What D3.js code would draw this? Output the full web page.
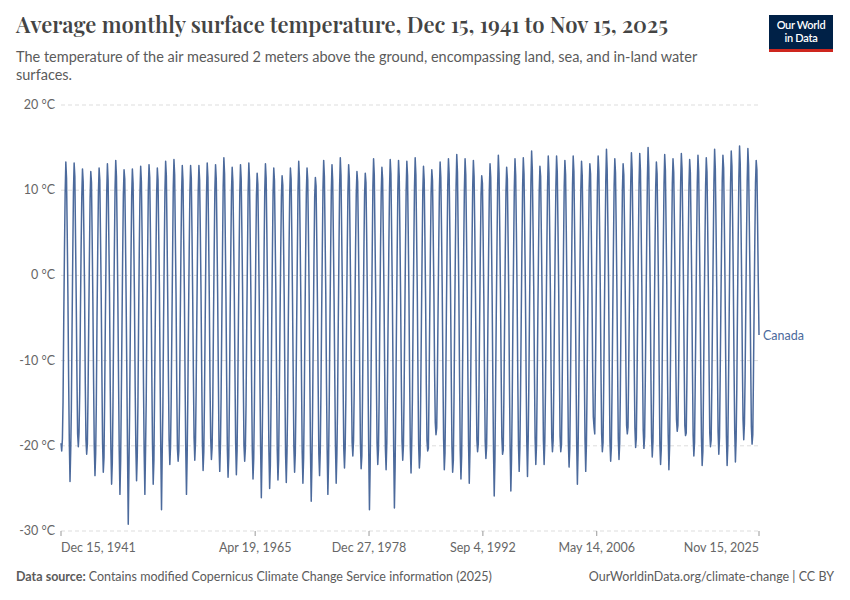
<!DOCTYPE html>
<html>
<head>
<meta charset="utf-8">
<script src="https://cdn.jsdelivr.net/npm/d3@7"></script>
<style>
  body { margin: 0; background: #fff; }
  svg { display: block; }
</style>
</head>
<body>
<svg id="chart" width="850" height="600"></svg>
<script>
// monthly mean surface temperature, Canada (°C)
// one row per year: Jan .. Dec
const dec1941 = -19.7;

const temps1940s = [
  [-20.6, -19.2, -14.8, -5.2, 2.6, 9.6, 13.3, 11.4, 4.8, -2.4, -12.1, -19.5],
  [-24.2, -20.5, -15.6, -6.1, 2.2, 9.9, 13.2, 11.6, 4.3, -2.9, -11.8, -18.6],
  [-20.1, -18.4, -13.9, -4.8, 2.9, 9.3, 12.5, 11.0, 4.9, -1.8, -12.6, -19.3],
  [-21.0, -19.8, -14.2, -5.9, 1.9, 9.1, 12.2, 10.9, 4.1, -3.1, -12.4, -20.1],
  [-23.5, -20.9, -15.1, -4.9, 2.7, 9.7, 12.6, 11.2, 4.6, -2.2, -11.6, -19.8],
  [-23.1, -21.4, -14.6, -5.6, 2.1, 9.8, 13.1, 11.1, 4.4, -1.9, -12.8, -20.4],
  [-24.5, -22.0, -15.4, -5.3, 2.8, 10.2, 13.5, 11.6, 5.0, -2.6, -12.2, -20.6],
  [-25.7, -21.8, -14.9, -6.0, 2.4, 9.5, 12.4, 11.3, 4.5, -3.0, -11.9, -21.0]
];

const temps1950s = [
  [-29.2, -22.6, -16.2, -6.8, 1.8, 9.4, 12.5, 10.8, 4.2, -2.7, -13.1, -20.2],
  [-24.1, -21.2, -15.3, -5.4, 2.9, 9.8, 12.8, 11.0, 4.7, -2.5, -12.7, -20.8],
  [-25.7, -20.4, -14.5, -5.0, 2.5, 10.1, 13.0, 11.5, 5.1, -2.1, -11.7, -19.9],
  [-24.5, -21.7, -14.1, -5.7, 2.2, 9.6, 12.6, 11.2, 4.6, -1.6, -12.3, -20.7],
  [-27.5, -20.8, -15.8, -5.5, 2.6, 10.0, 13.4, 11.7, 4.8, -2.8, -12.0, -19.4],
  [-22.2, -20.1, -14.7, -6.2, 2.0, 10.3, 13.6, 11.8, 4.4, -2.3, -13.0, -20.3],
  [-21.8, -20.6, -15.0, -5.8, 2.3, 9.7, 12.9, 11.1, 4.3, -2.0, -12.5, -20.5],
  [-25.7, -21.1, -14.4, -5.1, 2.8, 9.9, 12.9, 11.4, 4.9, -2.4, -11.8, -19.1],
  [-21.7, -19.6, -13.6, -4.7, 3.0, 10.0, 12.9, 11.2, 5.2, -1.9, -11.4, -19.7],
  [-22.9, -20.7, -14.8, -5.9, 2.4, 9.8, 13.2, 11.5, 4.5, -2.9, -12.9, -19.2]
];

const temps1960s = [
  [-21.6, -20.2, -15.2, -5.3, 2.7, 10.1, 13.0, 11.3, 4.8, -2.2, -11.9, -20.1],
  [-23.0, -19.9, -14.3, -5.6, 2.5, 10.4, 13.8, 11.9, 4.6, -2.5, -12.4, -20.4],
  [-23.7, -21.3, -14.6, -5.0, 2.6, 9.9, 12.7, 11.0, 4.7, -1.8, -11.6, -19.8],
  [-23.4, -20.6, -14.0, -5.4, 2.3, 9.8, 13.0, 11.3, 5.0, -1.7, -12.2, -20.0],
  [-21.8, -20.3, -15.1, -5.8, 2.1, 10.0, 13.2, 11.2, 4.3, -2.6, -12.8, -20.6],
  [-23.9, -21.5, -15.7, -6.3, 2.0, 9.4, 12.0, 10.7, 4.2, -2.8, -12.5, -20.3],
  [-26.1, -21.0, -14.8, -5.5, 2.4, 10.0, 13.1, 11.4, 4.9, -2.3, -12.9, -20.7],
  [-25.0, -22.3, -15.5, -6.0, 2.2, 9.6, 12.6, 11.1, 4.6, -2.1, -12.3, -20.5],
  [-24.0, -21.6, -14.2, -5.2, 2.5, 9.3, 11.7, 10.6, 4.4, -2.4, -12.6, -21.1],
  [-24.3, -20.8, -15.3, -5.3, 2.8, 9.7, 12.6, 11.3, 4.8, -2.6, -11.8, -20.2]
];

const temps1970s = [
  [-23.1, -20.9, -14.9, -5.8, 2.3, 10.2, 13.4, 11.5, 4.5, -2.7, -12.4, -20.8],
  [-24.4, -21.4, -15.0, -5.6, 2.6, 9.8, 12.6, 11.2, 4.9, -2.0, -12.1, -20.9],
  [-26.5, -22.1, -16.0, -6.4, 1.9, 9.2, 11.5, 10.5, 4.0, -3.2, -12.9, -21.0],
  [-23.5, -20.7, -14.1, -5.1, 2.7, 10.3, 13.5, 11.6, 4.8, -2.1, -12.6, -20.5],
  [-25.7, -21.9, -15.2, -5.7, 2.1, 9.9, 13.0, 11.1, 4.3, -2.9, -12.2, -20.1],
  [-24.4, -21.0, -15.6, -6.1, 2.4, 10.5, 13.8, 11.7, 4.7, -2.3, -12.7, -20.4],
  [-22.6, -20.2, -14.4, -5.0, 2.9, 9.9, 13.0, 11.4, 4.4, -2.8, -12.3, -19.6],
  [-21.2, -19.4, -13.8, -4.6, 3.1, 9.6, 12.2, 11.0, 4.9, -2.2, -11.9, -19.8],
  [-22.7, -21.2, -14.7, -5.4, 2.5, 9.5, 12.0, 10.9, 4.6, -2.5, -12.5, -20.9],
  [-27.5, -22.4, -14.9, -5.9, 2.3, 10.4, 13.7, 11.8, 4.8, -1.9, -12.0, -19.7]
];

const temps1980s = [
  [-22.2, -20.4, -14.6, -4.9, 3.0, 9.8, 12.7, 11.3, 4.7, -2.4, -11.7, -20.3],
  [-22.8, -19.7, -13.5, -4.7, 3.2, 10.3, 13.6, 11.9, 5.1, -1.8, -11.3, -20.6],
  [-27.3, -22.5, -15.4, -6.0, 2.4, 10.1, 13.5, 11.6, 4.6, -2.7, -12.4, -19.5],
  [-21.7, -20.0, -14.2, -5.2, 2.8, 10.0, 13.4, 11.7, 4.9, -2.3, -12.1, -20.2],
  [-23.2, -19.6, -14.5, -4.8, 2.9, 10.4, 13.8, 11.8, 5.0, -1.7, -11.8, -20.0],
  [-22.6, -21.1, -14.0, -5.5, 2.6, 9.9, 12.8, 11.2, 4.5, -2.6, -12.8, -19.4],
  [-20.6, -20.3, -13.7, -4.9, 3.0, 9.8, 12.4, 11.1, 4.8, -2.0, -11.5, -17.3],
  [-18.7, -17.9, -12.8, -4.4, 3.4, 10.3, 13.3, 11.5, 5.3, -1.5, -11.2, -19.2],
  [-22.8, -20.8, -13.9, -4.6, 3.3, 10.6, 13.7, 11.9, 5.2, -1.9, -11.6, -20.1],
  [-23.1, -21.7, -14.8, -5.0, 2.9, 10.5, 14.2, 12.1, 4.9, -2.2, -12.0, -20.6]
];

const temps1990s = [
  [-23.9, -21.2, -14.1, -5.3, 2.8, 10.2, 13.7, 11.8, 5.0, -1.8, -11.4, -19.8],
  [-24.4, -20.6, -13.6, -4.7, 3.3, 10.4, 13.5, 11.6, 5.2, -2.1, -11.9, -19.3],
  [-20.7, -19.8, -13.9, -5.1, 2.7, 9.5, 11.7, 10.8, 4.6, -2.4, -11.7, -19.5],
  [-21.5, -20.1, -14.3, -4.8, 3.1, 10.1, 13.1, 11.5, 4.8, -2.3, -12.3, -20.7],
  [-25.9, -21.6, -13.8, -4.5, 3.2, 10.7, 14.1, 12.0, 5.4, -1.6, -11.1, -19.0],
  [-21.0, -20.5, -14.4, -5.6, 2.6, 9.9, 12.7, 11.3, 4.5, -2.2, -12.6, -20.4],
  [-25.3, -21.5, -14.9, -5.2, 2.5, 10.3, 13.7, 11.7, 5.1, -2.0, -12.1, -19.9],
  [-23.0, -20.2, -14.0, -5.0, 3.0, 10.5, 13.8, 11.9, 5.3, -1.7, -11.6, -19.6],
  [-23.6, -19.3, -12.9, -3.9, 3.8, 11.0, 14.6, 12.4, 5.7, -1.2, -10.9, -19.1],
  [-22.2, -19.9, -13.3, -4.6, 3.1, 10.0, 12.8, 11.6, 5.0, -1.9, -11.0, -19.4]
];

const temps2000s = [
  [-22.2, -19.5, -13.4, -4.4, 3.4, 10.6, 14.0, 12.0, 5.4, -1.5, -11.5, -19.0],
  [-20.7, -19.4, -13.1, -4.3, 3.6, 10.5, 14.0, 12.1, 5.6, -1.4, -10.6, -18.9],
  [-20.7, -19.9, -14.0, -5.0, 2.9, 10.4, 13.5, 11.8, 5.1, -2.1, -11.3, -19.6],
  [-22.5, -20.3, -13.5, -4.6, 3.3, 10.6, 14.0, 12.2, 5.3, -1.3, -11.2, -19.7],
  [-24.5, -20.6, -13.7, -4.7, 3.0, 10.2, 13.4, 11.7, 5.2, -1.8, -11.1, -19.3],
  [-23.0, -19.8, -13.2, -4.2, 3.5, 10.3, 13.1, 11.9, 5.5, -1.3, -10.8, -16.6],
  [-17.8, -18.6, -12.7, -3.8, 3.9, 10.9, 14.0, 12.2, 5.8, -1.1, -11.0, -18.6],
  [-20.7, -19.6, -13.0, -4.5, 3.4, 11.1, 14.8, 12.4, 5.9, -0.9, -10.7, -19.5],
  [-21.8, -20.2, -13.6, -4.8, 3.1, 10.5, 13.7, 12.0, 5.4, -1.6, -10.9, -19.2],
  [-21.6, -19.7, -13.9, -4.4, 3.2, 10.1, 13.1, 11.8, 5.6, -1.7, -10.8, -17.6]
];

const temps2010s = [
  [-18.6, -17.8, -11.6, -3.6, 4.0, 10.9, 14.4, 12.4, 5.9, -0.8, -10.4, -17.9],
  [-20.2, -19.1, -13.1, -4.5, 3.3, 10.8, 14.3, 12.3, 5.7, -1.2, -10.5, -18.2],
  [-20.3, -18.9, -12.4, -4.1, 3.8, 11.3, 15.0, 12.7, 5.8, -1.4, -11.2, -19.0],
  [-21.3, -19.5, -13.8, -5.2, 3.0, 10.4, 13.3, 11.9, 5.6, -1.5, -11.4, -19.8],
  [-22.2, -20.4, -14.1, -4.6, 3.4, 10.7, 14.2, 12.3, 5.5, -1.1, -11.6, -18.7],
  [-22.8, -20.1, -13.3, -4.2, 3.7, 10.8, 13.7, 12.1, 6.1, -0.7, -10.1, -16.9],
  [-18.3, -17.6, -11.9, -3.7, 4.2, 11.0, 14.3, 12.5, 6.0, -0.6, -9.8, -17.6],
  [-18.8, -18.5, -12.6, -4.0, 3.6, 10.6, 13.6, 12.0, 5.7, -1.0, -10.9, -18.8],
  [-21.2, -19.6, -13.0, -5.0, 3.5, 10.9, 14.1, 12.2, 5.2, -1.9, -11.5, -19.1],
  [-22.3, -20.7, -13.4, -4.3, 3.1, 10.5, 13.8, 12.1, 5.6, -1.4, -11.0, -18.5]
];

const temps2020s = [
  [-20.1, -19.3, -12.9, -4.4, 3.2, 11.0, 14.8, 12.5, 5.9, -1.3, -10.2, -18.4],
  [-21.0, -19.0, -12.3, -3.9, 3.6, 11.2, 14.1, 12.6, 6.2, -0.9, -10.3, -18.9],
  [-22.3, -20.0, -13.2, -4.9, 3.3, 10.8, 14.6, 12.8, 6.4, -0.8, -10.7, -18.3],
  [-21.9, -19.2, -13.6, -4.1, 4.1, 11.4, 15.2, 13.0, 6.5, -0.5, -9.9, -16.9],
  [-19.3, -17.4, -11.8, -3.5, 4.0, 11.1, 14.9, 12.9, 6.3, -0.4, -10.1, -17.8],
  [-19.8, -18.7, -12.2, -3.8, 3.9, 10.9, 13.5, 12.4, 6.0, -0.9, -7.0]
];

const firstYear = 1942;
const yTicks = [-30, -20, -10, 0, 10, 20];
const xTickDates = ['1941-12-15', '1965-04-19', '1978-12-27', '1992-09-04', '2006-05-14', '2025-11-15'];
const xTickLabels = ['Dec 15, 1941', 'Apr 19, 1965', 'Dec 27, 1978', 'Sep 4, 1992', 'May 14, 2006', 'Nov 15, 2025'];
const entityName = 'Canada';

// flatten into {date, value}
const rows = [].concat(temps1940s, temps1950s, temps1960s, temps1970s,
  temps1980s, temps1990s, temps2000s, temps2010s, temps2020s);

const series = [{ date: new Date(1941, 11, 15), value: dec1941 }];
rows.forEach((row, i) => {
  row.forEach((v, m) => {
    series.push({ date: new Date(firstYear + i, m, 15), value: v });
  });
});

const parseDay = d3.timeParse('%Y-%m-%d');

const svg = d3.select('#chart');
const lineColor = '#4c6a9c';
const plot = { left: 61, right: 759, top: 105, bottom: 531 };

const x = d3.scaleTime()
  .domain([series[0].date, series[series.length - 1].date])
  .range([plot.left, plot.right]);

const y = d3.scaleLinear()
  .domain([-30, 20])
  .range([plot.bottom, plot.top]);

// header
svg.append('text')
  .attr('x', 16).attr('y', 33)
  .attr('font-family', "'Playfair Display', 'Liberation Serif', serif")
  .attr('font-size', 23)
  .attr('font-weight', 600)
  .attr('fill', '#444')
  .attr('textLength', 652)
  .attr('lengthAdjust', 'spacingAndGlyphs')
  .text('Average monthly surface temperature, Dec 15, 1941 to Nov 15, 2025');

const sub = svg.append('text')
  .attr('font-family', 'Lato, sans-serif')
  .attr('font-size', 14.5)
  .attr('fill', '#5b5b5b');
sub.append('tspan').attr('x', 16).attr('y', 62)
  .text('The temperature of the air measured 2 meters above the ground, encompassing land, sea, and in-land water');
sub.append('tspan').attr('x', 16).attr('y', 80).text('surfaces.');

// logo
const logo = svg.append('g');
logo.append('rect').attr('x', 769).attr('y', 15).attr('width', 64).attr('height', 37).attr('fill', '#002147');
logo.append('rect').attr('x', 769).attr('y', 49).attr('width', 64).attr('height', 3).attr('fill', '#ce261e');
logo.selectAll('text.logo')
  .data(['Our World', 'in Data'])
  .join('text')
  .attr('class', 'logo')
  .attr('x', 801)
  .attr('y', (d, i) => 29 + i * 13)
  .attr('text-anchor', 'middle')
  .attr('font-family', 'Lato, sans-serif')
  .attr('font-size', 11)
  .attr('font-weight', 600)
  .attr('letter-spacing', -0.3)
  .attr('fill', '#fff')
  .text(d => d);

// grid + y labels
const grid = svg.append('g');
grid.selectAll('line')
  .data(yTicks)
  .join('line')
  .attr('x1', plot.left).attr('x2', plot.right)
  .attr('y1', d => y(d)).attr('y2', d => y(d))
  .attr('stroke', '#dddddd')
  .attr('stroke-dasharray', '4,3');

grid.selectAll('text')
  .data(yTicks)
  .join('text')
  .attr('x', 55)
  .attr('y', d => y(d) + 4)
  .attr('text-anchor', 'end')
  .attr('font-family', 'Lato, sans-serif')
  .attr('font-size', 12.5)
  .attr('fill', '#666')
  .text(d => d + ' °C');

// x axis
const xAxis = svg.append('g');
xAxis.selectAll('line')
  .data(xTickDates)
  .join('line')
  .attr('x1', d => x(parseDay(d))).attr('x2', d => x(parseDay(d)))
  .attr('y1', plot.bottom).attr('y2', plot.bottom + 5)
  .attr('stroke', '#999');

xAxis.selectAll('text')
  .data(xTickDates)
  .join('text')
  .attr('x', d => x(parseDay(d)))
  .attr('y', 552)
  .attr('text-anchor', (d, i) => i === 0 ? 'start' : (i === xTickDates.length - 1 ? 'end' : 'middle'))
  .attr('font-family', 'Lato, sans-serif')
  .attr('font-size', 12.5)
  .attr('fill', '#666')
  .text((d, i) => xTickLabels[i]);

// line
const line = d3.line()
  .x(d => x(d.date))
  .y(d => y(d.value));

svg.append('path')
  .datum(series)
  .attr('d', line)
  .attr('fill', 'none')
  .attr('stroke', lineColor)
  .attr('stroke-width', 1.5)
  .attr('stroke-linejoin', 'round');

const last = series[series.length - 1];
svg.append('text')
  .attr('x', x(last.date) + 4)
  .attr('y', y(last.value) + 5)
  .attr('font-family', 'Lato, sans-serif')
  .attr('font-size', 12.5)
  .attr('fill', lineColor)
  .text(entityName);

// footer
const foot = svg.append('text')
  .attr('x', 16).attr('y', 581)
  .attr('font-family', 'Lato, sans-serif')
  .attr('font-size', 12.5)
  .attr('fill', '#5b5b5b');
foot.append('tspan').attr('font-weight', 'bold').text('Data source: ');
foot.append('tspan').text('Contains modified Copernicus Climate Change Service information (2025)');

svg.append('text')
  .attr('x', 834).attr('y', 581)
  .attr('text-anchor', 'end')
  .attr('font-family', 'Lato, sans-serif')
  .attr('font-size', 12.5)
  .attr('fill', '#5b5b5b')
  .text('OurWorldinData.org/climate-change | CC BY');
</script>
</body>
</html>
